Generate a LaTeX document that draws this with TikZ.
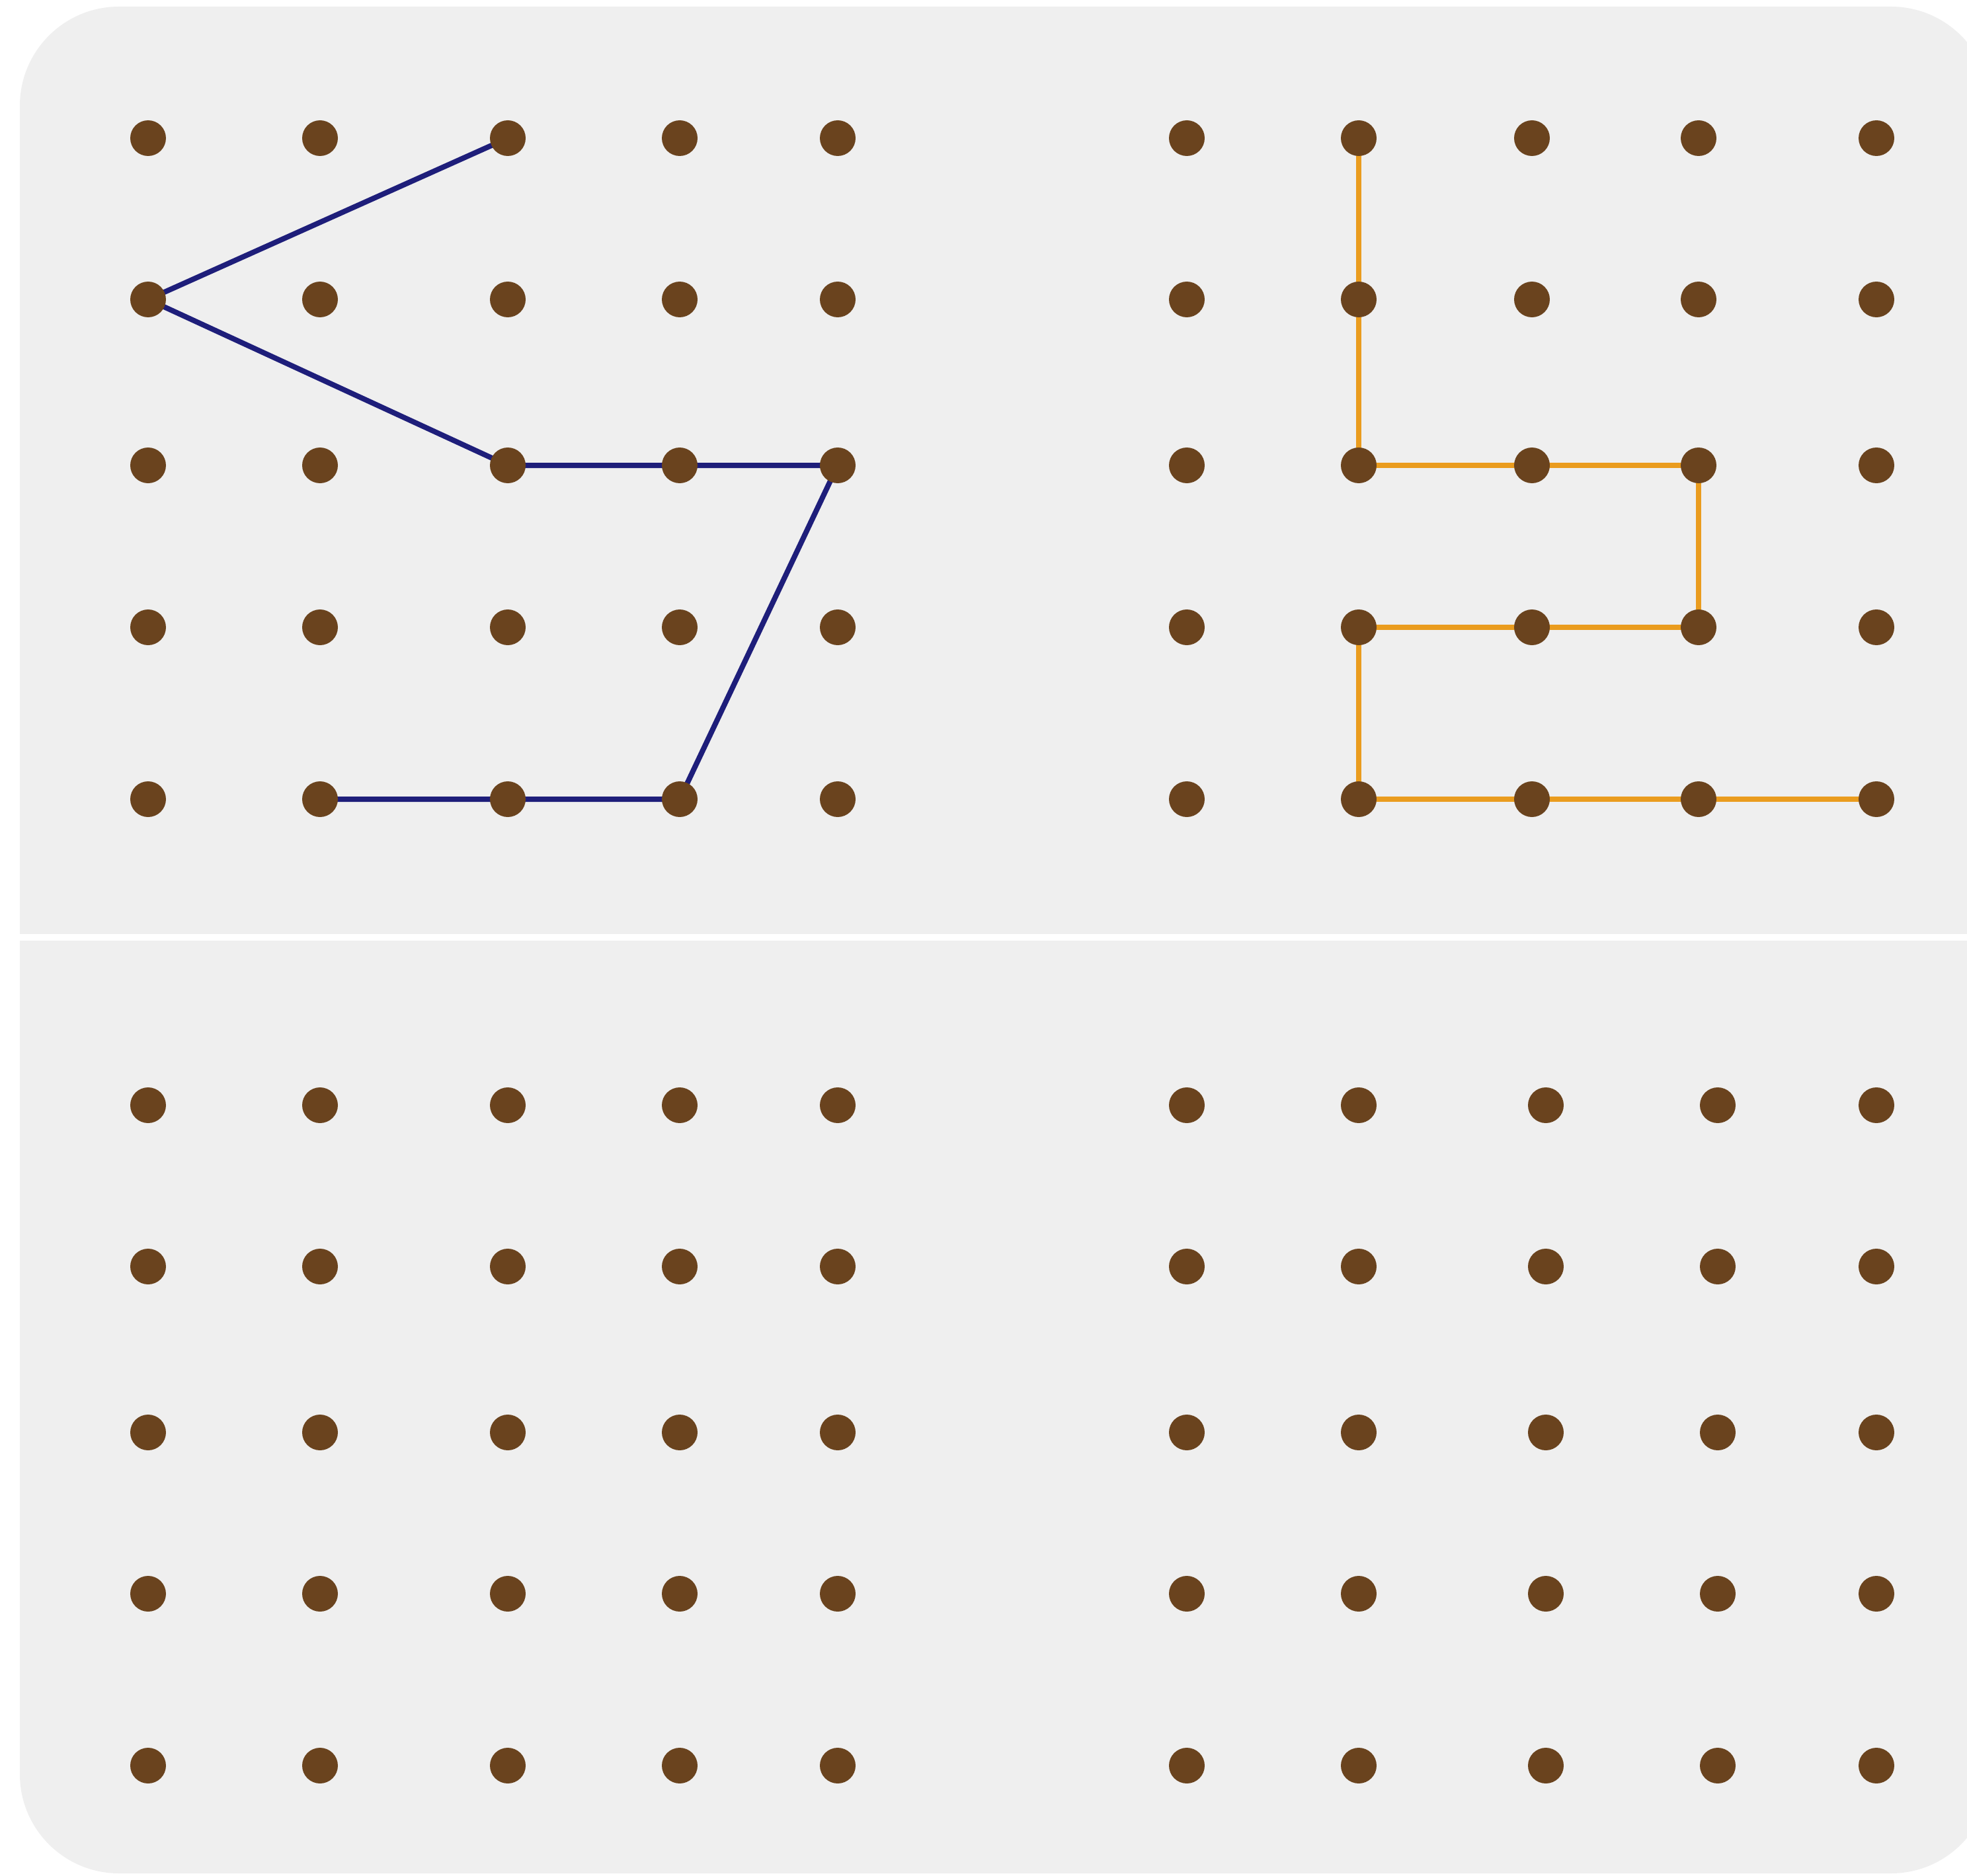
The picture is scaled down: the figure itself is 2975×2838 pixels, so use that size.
\documentclass[tikz,border=0pt]{standalone}
\usepackage{tikz}
\usetikzlibrary{positioning, backgrounds}
\usepackage{xcolor}

\definecolor{panelgray}{RGB}{239,239,239}
\definecolor{pegbrown}{RGB}{106,67,30}
\definecolor{bandblue}{RGB}{30,30,122}
\definecolor{bandorange}{RGB}{234,156,30}

\begin{document}
\begin{tikzpicture}[
    x=0.1mm, y=-0.1mm,
    peg/.style={circle, fill=pegbrown, inner sep=0pt, minimum size=5.4mm},
    band/.style={line width=0.8mm, line join=round}
]
    \useasboundingbox (0,0) rectangle (2975,2838);

    % four geoboards
    \foreach \x [count=\i] in {224,484,768,1028,1267} {
        \foreach \y [count=\j] in {209,453,704,949,1209}
            \node[peg] (tl-\i-\j) at (\x,\y) {};
        \foreach \y [count=\j] in {1672,1916,2167,2411,2671}
            \node[peg] (bl-\i-\j) at (\x,\y) {};
    }
    \foreach \x [count=\i] in {1795,2055,2317,2569,2838} {
        \foreach \y [count=\j] in {209,453,704,949,1209}
            \node[peg] (tr-\i-\j) at (\x,\y) {};
    }
    \foreach \x [count=\i] in {1795,2055,2338,2598,2838} {
        \foreach \y [count=\j] in {1672,1916,2167,2411,2671}
            \node[peg] (br-\i-\j) at (\x,\y) {};
    }

    \begin{scope}[on background layer]
        % board and divider
        \fill[panelgray, rounded corners=15mm] (30,10) rectangle (3010,2834);
        \draw[white, line width=1mm] (30,1418) -- (2975,1418);
        % bands
        \draw[band, bandblue] (tl-3-1.center) -- (tl-1-2.center) -- (tl-3-3.center)
            -- (tl-4-3.center) -- (tl-5-3.center) -- (tl-4-5.center) -- (tl-3-5.center)
            -- (tl-2-5.center);
        \draw[band, bandorange] (tr-2-1.center) -- (tr-2-2.center) -- (tr-2-3.center)
            -- (tr-3-3.center) -- (tr-4-3.center) -- (tr-4-4.center) -- (tr-3-4.center)
            -- (tr-2-4.center) -- (tr-2-5.center) -- (tr-3-5.center) -- (tr-4-5.center)
            -- (tr-5-5.center);
    \end{scope}
\end{tikzpicture}
\end{document}
